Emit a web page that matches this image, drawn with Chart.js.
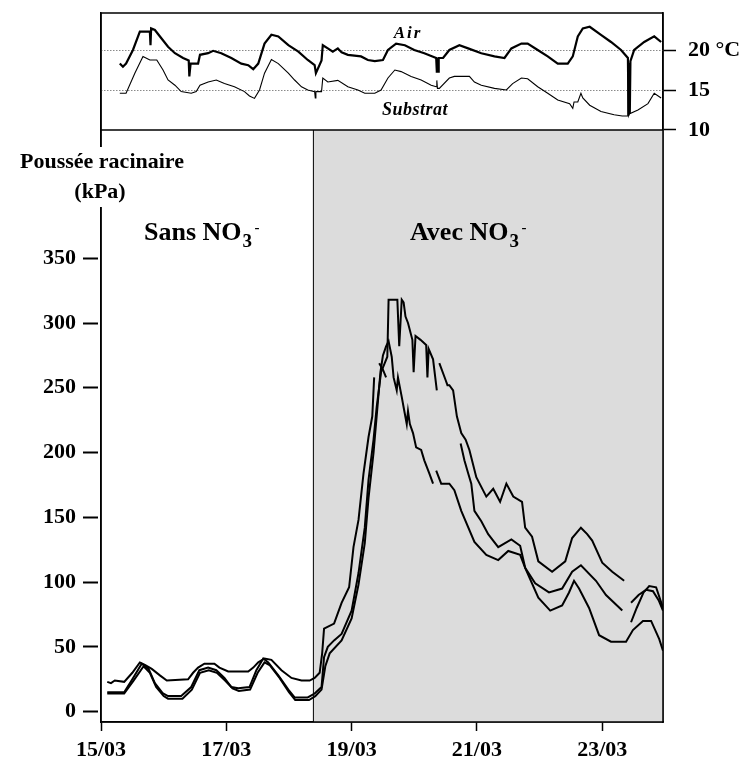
<!DOCTYPE html>
<html lang="fr">
<head>
<meta charset="utf-8">
<title>Poussée racinaire</title>
<script src="https://cdn.jsdelivr.net/npm/chart.js@4.4.1/dist/chart.umd.min.js"></script>
<style>
  html, body { margin: 0; padding: 0; background: #fff; }
  #graphique { display: block; }
</style>
</head>
<body>
<canvas id="graphique" width="746" height="767"></canvas>
<script>
// Axe du temps : jours depuis le 15/03 à 0 h
const joursTicks = [0, 2, 4, 6, 8];
const etiquettesJours = ['15/03', '17/03', '19/03', '21/03', '23/03'];
const debutNitrate = 3.39; // début de l'apport de NO3-

// Poussée racinaire (kPa)
const kpaTicks = [0, 50, 100, 150, 200, 250, 300, 350];
// Températures (°C)
const tempTicks = [10, 15, 20];
const etiquettesTemp = ['10', '15', '20 °C'];

// Trois plantes : [jour, kPa] (null = interruption de l'enregistrement)
const planteA = [
    [0.10, 23], [0.16, 22], [0.22, 24], [0.37, 23], [0.50, 30], [0.62, 38], [0.70, 36], [0.81, 33],
    [0.94, 28], [1.05, 24], [1.39, 25], [1.47, 30], [1.55, 34], [1.65, 37], [1.81, 37], [1.89, 34],
    [2.03, 31], [2.35, 31], [2.43, 34], [2.51, 38], [2.61, 41], [2.72, 40], [2.88, 32], [3.04, 26],
    [3.20, 24], [3.33, 24], [3.41, 26], [3.49, 30], [3.53, 45], [3.56, 64], [3.72, 68], [3.84, 84],
    [3.96, 96], [4.03, 127], [4.11, 148], [4.19, 184], [4.27, 212], [4.33, 228], [4.36, 258], [4.40, null],
    [4.44, 269], [4.50, 264], [4.55, 258], [5.70, null], [5.74, 207], [5.80, 194], [5.86, 184], [5.91, 176],
    [5.96, 155], [6.07, 147], [6.18, 137], [6.34, 127], [6.55, 133], [6.69, 128], [6.77, 111], [6.93, 99],
    [7.15, 92], [7.36, 95], [7.52, 108], [7.66, 113], [7.90, 101], [8.06, 90], [8.32, 78], [8.40, null],
    [8.46, 84], [8.58, 90], [8.70, 94], [8.81, 93], [8.90, 86], [8.97, 78]
];
const planteB = [
    [0.10, 15], [0.37, 15], [0.50, 25], [0.65, 37], [0.76, 33], [0.86, 22], [0.99, 14], [1.07, 12],
    [1.28, 12], [1.44, 19], [1.57, 32], [1.71, 34], [1.84, 32], [1.97, 26], [2.08, 19], [2.19, 18],
    [2.37, 19], [2.48, 32], [2.59, 41], [2.67, 38], [2.83, 28], [2.99, 17], [3.09, 11], [3.30, 11],
    [3.41, 14], [3.52, 19], [3.56, 42], [3.62, 50], [3.72, 55], [3.84, 60], [4.00, 78], [4.11, 107],
    [4.21, 142], [4.27, 179], [4.35, 210], [4.40, 235], [4.47, 262], [4.57, 274], [4.59, 318], [4.66, 318],
    [4.73, 318], [4.76, 282], [4.80, 318], [4.83, 316], [4.86, 305], [4.90, 300], [4.97, 287], [4.99, 262],
    [5.02, 290], [5.10, 287], [5.19, 283], [5.21, 258], [5.23, 280], [5.30, 272], [5.36, 248], [5.38, null],
    [5.40, 269], [5.50, 256], [5.53, 252], [5.56, 252], [5.62, 248], [5.68, 228], [5.75, 215], [5.82, 210],
    [5.88, 202], [5.99, 181], [6.15, 166], [6.26, 172], [6.37, 162], [6.47, 176], [6.58, 166], [6.72, 162],
    [6.77, 142], [6.88, 135], [6.98, 116], [7.20, 108], [7.41, 116], [7.52, 134], [7.66, 142], [7.76, 137],
    [7.84, 132], [8.00, 115], [8.16, 108], [8.35, 101], [8.40, null], [8.46, 69], [8.55, 80], [8.66, 92],
    [8.75, 97], [8.86, 96], [8.97, 80]
];
const planteC = [
    [0.10, 14], [0.37, 14], [0.52, 24], [0.68, 35], [0.78, 30], [0.88, 19], [1.00, 12], [1.07, 10],
    [1.30, 10], [1.45, 17], [1.58, 30], [1.72, 32], [1.85, 30], [1.98, 24], [2.10, 18], [2.20, 16],
    [2.38, 17], [2.50, 30], [2.61, 38], [2.69, 36], [2.85, 26], [3.00, 15], [3.10, 9], [3.32, 9],
    [3.42, 12], [3.52, 17], [3.58, 35], [3.65, 45], [3.84, 55], [4.00, 72], [4.11, 98], [4.21, 130],
    [4.27, 165], [4.35, 200], [4.40, 228], [4.46, 262], [4.50, 275], [4.55, 282], [4.59, 286], [4.64, 274],
    [4.67, 258], [4.72, 248], [4.74, 258], [4.80, 243], [4.83, 235], [4.88, 222], [4.90, 232], [4.93, 222],
    [4.98, 215], [5.03, 204], [5.11, 202], [5.16, 194], [5.24, 184], [5.30, 176], [5.32, null], [5.35, 186],
    [5.43, 176], [5.56, 176], [5.64, 171], [5.75, 155], [5.96, 131], [6.15, 121], [6.34, 117], [6.50, 124],
    [6.69, 121], [6.77, 111], [6.98, 88], [7.17, 78], [7.36, 82], [7.47, 92], [7.55, 101], [7.63, 95],
    [7.79, 80], [7.95, 59], [8.14, 54], [8.38, 54], [8.49, 63], [8.65, 70], [8.78, 70], [8.91, 56],
    [8.97, 47]
];

// Températures : [jour, °C]
const tempAir = [
    [0.30, 18.3], [0.35, 17.9], [0.40, 18.3], [0.51, 20], [0.62, 22.3], [0.78, 22.3], [0.79, 20.6], [0.80, 22.7],
    [0.86, 22.5], [0.96, 21.5], [1.07, 20.4], [1.18, 19.6], [1.31, 19.0], [1.40, 18.7], [1.41, 16.7], [1.43, 18.3],
    [1.55, 18.3], [1.58, 19.4], [1.71, 19.6], [1.79, 19.9], [1.92, 19.6], [2.08, 19.0], [2.24, 18.3], [2.35, 18.1],
    [2.43, 17.6], [2.51, 18.3], [2.61, 20.8], [2.72, 21.9], [2.83, 21.7], [2.99, 20.6], [3.15, 19.8], [3.30, 18.75],
    [3.41, 18.1], [3.43, 17.1], [3.52, 18.7], [3.54, 20.6], [3.62, 20.2], [3.70, 19.8], [3.78, 20.2], [3.84, 19.7],
    [3.94, 19.4], [4.15, 19.2], [4.26, 18.75], [4.37, 18.6], [4.50, 18.75], [4.58, 20], [4.71, 20.8], [4.85, 20.6],
    [5.00, 20], [5.16, 19.6], [5.35, 19.0], [5.36, 17.3], [5.38, 17.3], [5.39, 19.0], [5.46, 19.0], [5.56, 20],
    [5.72, 20.6], [5.86, 20.2], [6.07, 19.6], [6.28, 19.2], [6.44, 19.0], [6.55, 20.2], [6.71, 20.8], [6.81, 20.8],
    [6.97, 20], [7.13, 19.2], [7.29, 18.3], [7.45, 18.3], [7.53, 19.2], [7.61, 21.7], [7.69, 22.7], [7.80, 22.9],
    [7.98, 21.9], [8.14, 21.0], [8.30, 20], [8.41, 19.0], [8.42, 11.8], [8.43, 18.4], [8.44, 12.0], [8.45, 18.6],
    [8.51, 20], [8.67, 21.0], [8.83, 21.7], [8.94, 21.0]
];
const tempSubstrat = [
    [0.30, 14.6], [0.40, 14.6], [0.54, 17.1], [0.67, 19.2], [0.78, 18.75], [0.89, 18.75], [0.99, 17.5], [1.07, 16.25],
    [1.18, 15.6], [1.28, 14.8], [1.44, 14.6], [1.52, 14.8], [1.58, 15.6], [1.71, 16.0], [1.84, 16.25], [1.97, 15.8],
    [2.13, 15.4], [2.29, 14.8], [2.37, 14.25], [2.45, 13.95], [2.53, 15], [2.61, 17.1], [2.72, 18.8], [2.83, 18.3],
    [2.99, 17.1], [3.09, 16.25], [3.20, 15.4], [3.30, 15.0], [3.41, 14.8], [3.42, 14.0], [3.43, 14.8], [3.52, 14.8],
    [3.54, 16.5], [3.62, 16.0], [3.78, 16.2], [3.94, 15.4], [4.10, 15.0], [4.21, 14.6], [4.37, 14.6], [4.47, 15.0],
    [4.58, 16.5], [4.69, 17.5], [4.79, 17.3], [4.95, 16.7], [5.11, 16.25], [5.27, 15.6], [5.35, 15.4], [5.36, 16.2],
    [5.37, 15.2], [5.40, 15.2], [5.56, 16.5], [5.64, 16.7], [5.88, 16.7], [5.96, 16.0], [6.07, 15.6], [6.28, 15.2],
    [6.47, 15.0], [6.57, 15.8], [6.71, 16.5], [6.81, 16.4], [6.97, 15.4], [7.13, 14.6], [7.29, 13.75], [7.48, 13.3],
    [7.53, 12.7], [7.55, 13.5], [7.61, 13.5], [7.66, 14.6], [7.69, 14.0], [7.80, 13.1], [7.98, 12.3], [8.19, 11.9],
    [8.32, 11.75], [8.40, 11.75], [8.41, 17.7], [8.42, 11.8], [8.43, 12], [8.57, 12.5], [8.73, 13.3], [8.83, 14.6],
    [8.94, 14.0]
];

const POLICE = '"Liberation Serif", "Times New Roman", serif';

// Convertit les paires [jour, valeur] en points pour Chart.js
function versPoints(paires) {
    return paires.map(p => ({ x: p[0], y: p[1] }));
}

function serie(paires, axe, epaisseur) {
    return {
        data: versPoints(paires),
        yAxisID: axe,
        borderColor: '#000',
        borderWidth: epaisseur,
        pointRadius: 0,
        tension: 0,
        spanGaps: false
    };
}

// Pas de marge automatique autour des axes : le cadre doit rester fixe
function sansMarge(s) {
    s.paddingTop = 0;
    s.paddingBottom = 0;
    s.paddingLeft = 0;
    s.paddingRight = 0;
}

// Fond gris, pointillés, cadres et textes
const decor = {
    id: 'decor',
    beforeDatasetsDraw(chart) {
        const { ctx, chartArea, scales } = chart;
        const xN = scales.x.getPixelForValue(debutNitrate);
        const ySep = scales.yT.getPixelForValue(10);
        ctx.save();
        ctx.fillStyle = '#dcdcdc';
        ctx.fillRect(xN, ySep, chartArea.right - xN, chartArea.bottom - ySep);
        ctx.strokeStyle = '#000';
        ctx.lineWidth = 1;
        ctx.beginPath();
        ctx.moveTo(xN, ySep);
        ctx.lineTo(xN, chartArea.bottom);
        ctx.stroke();
        // lignes pointillées à 15 et 20 °C
        ctx.strokeStyle = '#8a8a8a';
        ctx.setLineDash([1.5, 1.5]);
        [15, 20].forEach(t => {
            const y = Math.round(scales.yT.getPixelForValue(t)) + 0.5;
            ctx.beginPath();
            ctx.moveTo(chartArea.left, y);
            ctx.lineTo(chartArea.right, y);
            ctx.stroke();
        });
        ctx.restore();
    },
    afterDatasetsDraw(chart) {
        const { ctx, chartArea, scales } = chart;
        const ySep = scales.yT.getPixelForValue(10);
        ctx.save();
        ctx.strokeStyle = '#000';
        ctx.lineWidth = 1.5;
        ctx.strokeRect(chartArea.left, chartArea.top, chartArea.right - chartArea.left, chartArea.bottom - chartArea.top);
        ctx.beginPath();
        ctx.moveTo(chartArea.left, ySep);
        ctx.lineTo(chartArea.right, ySep);
        ctx.stroke();
        ctx.restore();
    },
    afterDraw(chart) {
        const { ctx } = chart;
        ctx.save();
        ctx.fillStyle = '#000';
        ctx.textBaseline = 'alphabetic';

        // titre de l'axe, posé sur fond blanc par-dessus le cadre
        ctx.font = 'bold 22px ' + POLICE;
        ctx.textAlign = 'center';
        ctx.fillStyle = '#fff';
        ctx.fillRect(92, 147, 18, 60);
        ctx.fillStyle = '#000';
        ctx.fillText('Poussée racinaire', 102, 168);
        ctx.fillText('(kPa)', 100, 198);

        // Sans / Avec NO3-
        function nitrate(texte, x) {
            ctx.textAlign = 'left';
            ctx.font = 'bold 26px ' + POLICE;
            ctx.fillText(texte, x, 240);
            const w = ctx.measureText(texte).width;
            ctx.font = 'bold 19px ' + POLICE;
            ctx.fillText('3', x + w + 1, 247);
            ctx.font = 'bold 15px ' + POLICE;
            ctx.fillText('-', x + w + 13, 232);
        }
        nitrate('Sans NO', 144);
        nitrate('Avec NO', 410);

        // Air / Substrat
        ctx.textAlign = 'center';
        ctx.font = 'italic bold 17px ' + POLICE;
        ctx.letterSpacing = '2px';
        ctx.fillText('Air', 408, 38);
        ctx.font = 'italic bold 18px ' + POLICE;
        ctx.letterSpacing = '0.5px';
        ctx.fillText('Substrat', 415, 115);
        ctx.restore();
    }
};

const policeTicks = { family: POLICE, weight: 'bold', size: 22 };

new Chart(document.getElementById('graphique'), {
    type: 'line',
    data: {
        datasets: [
            serie(planteA, 'y', 2),
            serie(planteB, 'y', 2),
            serie(planteC, 'y', 2),
            serie(tempAir, 'yT', 2.2),
            serie(tempSubstrat, 'yT', 1.1)
        ]
    },
    options: {
        responsive: false,
        animation: false,
        devicePixelRatio: 1,
        layout: { padding: { top: 13, left: 0, right: 0, bottom: 0 } },
        plugins: {
            legend: { display: false },
            tooltip: { enabled: false }
        },
        scales: {
            x: {
                type: 'linear',
                min: 0,
                max: 8.97,
                afterBuildTicks: s => { s.ticks = joursTicks.map(v => ({ value: v })); },
                afterFit: s => { s.height = 45; sansMarge(s); },
                grid: { drawOnChartArea: false, tickLength: 9, tickColor: '#000', tickWidth: 1.5 },
                border: { display: true, color: '#000', width: 1.5 },
                ticks: {
                    autoSkip: false,
                    maxRotation: 0,
                    padding: 6,
                    color: '#000',
                    font: policeTicks,
                    callback: v => etiquettesJours[joursTicks.indexOf(v)]
                }
            },
            y: {
                position: 'left',
                min: -8,
                max: 539.3,
                afterBuildTicks: s => { s.ticks = kpaTicks.map(v => ({ value: v })); },
                afterFit: s => { s.width = 101; sansMarge(s); },
                grid: {
                    drawOnChartArea: false,
                    tickLength: 18,
                    tickColor: '#000',
                    tickWidth: 2,
                    tickBorderDash: [15, 40]
                },
                border: { display: true, color: '#000', width: 1.5 },
                ticks: { padding: 7, color: '#000', font: policeTicks, callback: v => String(v) }
            },
            yT: {
                position: 'right',
                min: -64,
                max: 24.625,
                afterBuildTicks: s => { s.ticks = tempTicks.map(v => ({ value: v })); },
                afterFit: s => { s.width = 83; sansMarge(s); },
                grid: { drawOnChartArea: false, tickLength: 13, tickColor: '#000', tickWidth: 1.5 },
                border: { display: true, color: '#000', width: 1.5 },
                ticks: {
                    padding: 12,
                    color: '#000',
                    font: policeTicks,
                    callback: v => etiquettesTemp[tempTicks.indexOf(v)]
                }
            }
        }
    },
    plugins: [decor]
});
</script>
</body>
</html>
